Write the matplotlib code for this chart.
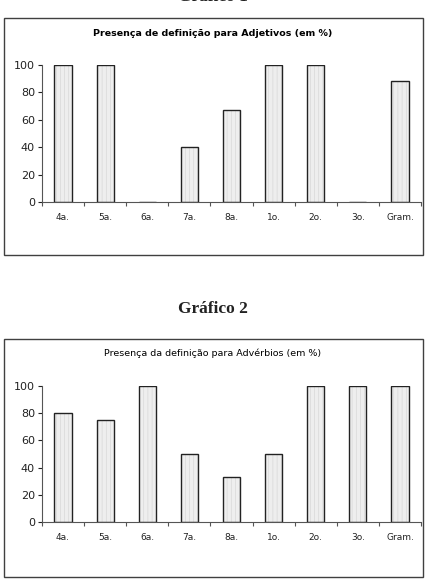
import matplotlib
matplotlib.use("Agg")
import matplotlib.pyplot as plt
from matplotlib.patches import Rectangle
import numpy as np

categorias = ["4a.", "5a.", "6a.", "7a.", "8a.", "1o.", "2o.", "3o.", "Gram."]
adjetivos = [100, 100, 0, 40, 67, 100, 100, 0, 88]
adverbios = [80, 75, 100, 50, 33, 50, 100, 100, 100]
yticks = [0, 20, 40, 60, 80, 100]

W, H = 426, 583
plt.rcParams["hatch.linewidth"] = 0.4
fig = plt.figure(figsize=(W / 100, H / 100), dpi=100)


def caixa(top, bottom):
    # moldura do grafico (coordenadas em pixels)
    fig.patches.append(Rectangle((4 / W, 1 - bottom / H), (423 - 4) / W, (bottom - top) / H,
                                 transform=fig.transFigure, fill=False,
                                 edgecolor="#404040", linewidth=1.0))


def grafico(valores, titulo, peso, top, ytop, y0, title_y):
    caixa(*top)
    fig.text(0.5, 1 - title_y / H, titulo, ha="center", va="center",
             fontsize=6.8, fontweight=peso, family="DejaVu Sans")
    ax = fig.add_axes([42 / W, 1 - y0 / H, (421 - 42) / W, (y0 - ytop) / H])
    x = np.arange(len(categorias))
    # preenchimento levemente texturizado + contorno
    ax.bar(x, valores, width=0.41, facecolor="#eeeeee", edgecolor="#d2d2d2",
           linewidth=0, hatch="||||", zorder=2)
    ax.bar(x, valores, width=0.41, fill=False, edgecolor="#222222",
           linewidth=1.0, zorder=3)
    ax.set_xlim(-0.5, len(categorias) - 0.5)
    ax.set_ylim(0, 100)
    ax.set_yticks(yticks)
    ax.tick_params(axis="y", labelsize=8, length=3, width=0.8, pad=2, colors="#222222")
    ax.set_xticks(x)
    ax.set_xticklabels(categorias)
    ax.tick_params(axis="x", length=0, labelsize=6.5, pad=8, colors="#222222")
    ax.set_xticks(np.arange(len(categorias) + 1) - 0.5, minor=True)
    ax.tick_params(axis="x", which="minor", length=3, width=0.8, color="#555555")
    for s in ["top", "right"]:
        ax.spines[s].set_visible(False)
    for s in ["left", "bottom"]:
        ax.spines[s].set_color("#555555")
        ax.spines[s].set_linewidth(0.8)
        ax.spines[s].set_zorder(4)
    return ax


# titulo do grafico 1 cortado no topo (como na imagem original)
fig.text(0.5, 1 + 3 / H, "Gráfico 1", ha="center", va="center",
         fontsize=12.5, fontweight="bold", family="Liberation Serif", color="#222222")
fig.text(0.5, 1 - 309 / H, "Gráfico 2", ha="center", va="center",
         fontsize=12.5, fontweight="bold", family="Liberation Serif", color="#222222")

grafico(adjetivos, "Presença de definição para Adjetivos (em %)", "bold",
        (18, 255), 65, 202, 33)
grafico(adverbios, "Presença da definição para Advérbios (em %)", "normal",
        (339, 577), 386, 522, 353)

fig.savefig("out.png", dpi=100)
